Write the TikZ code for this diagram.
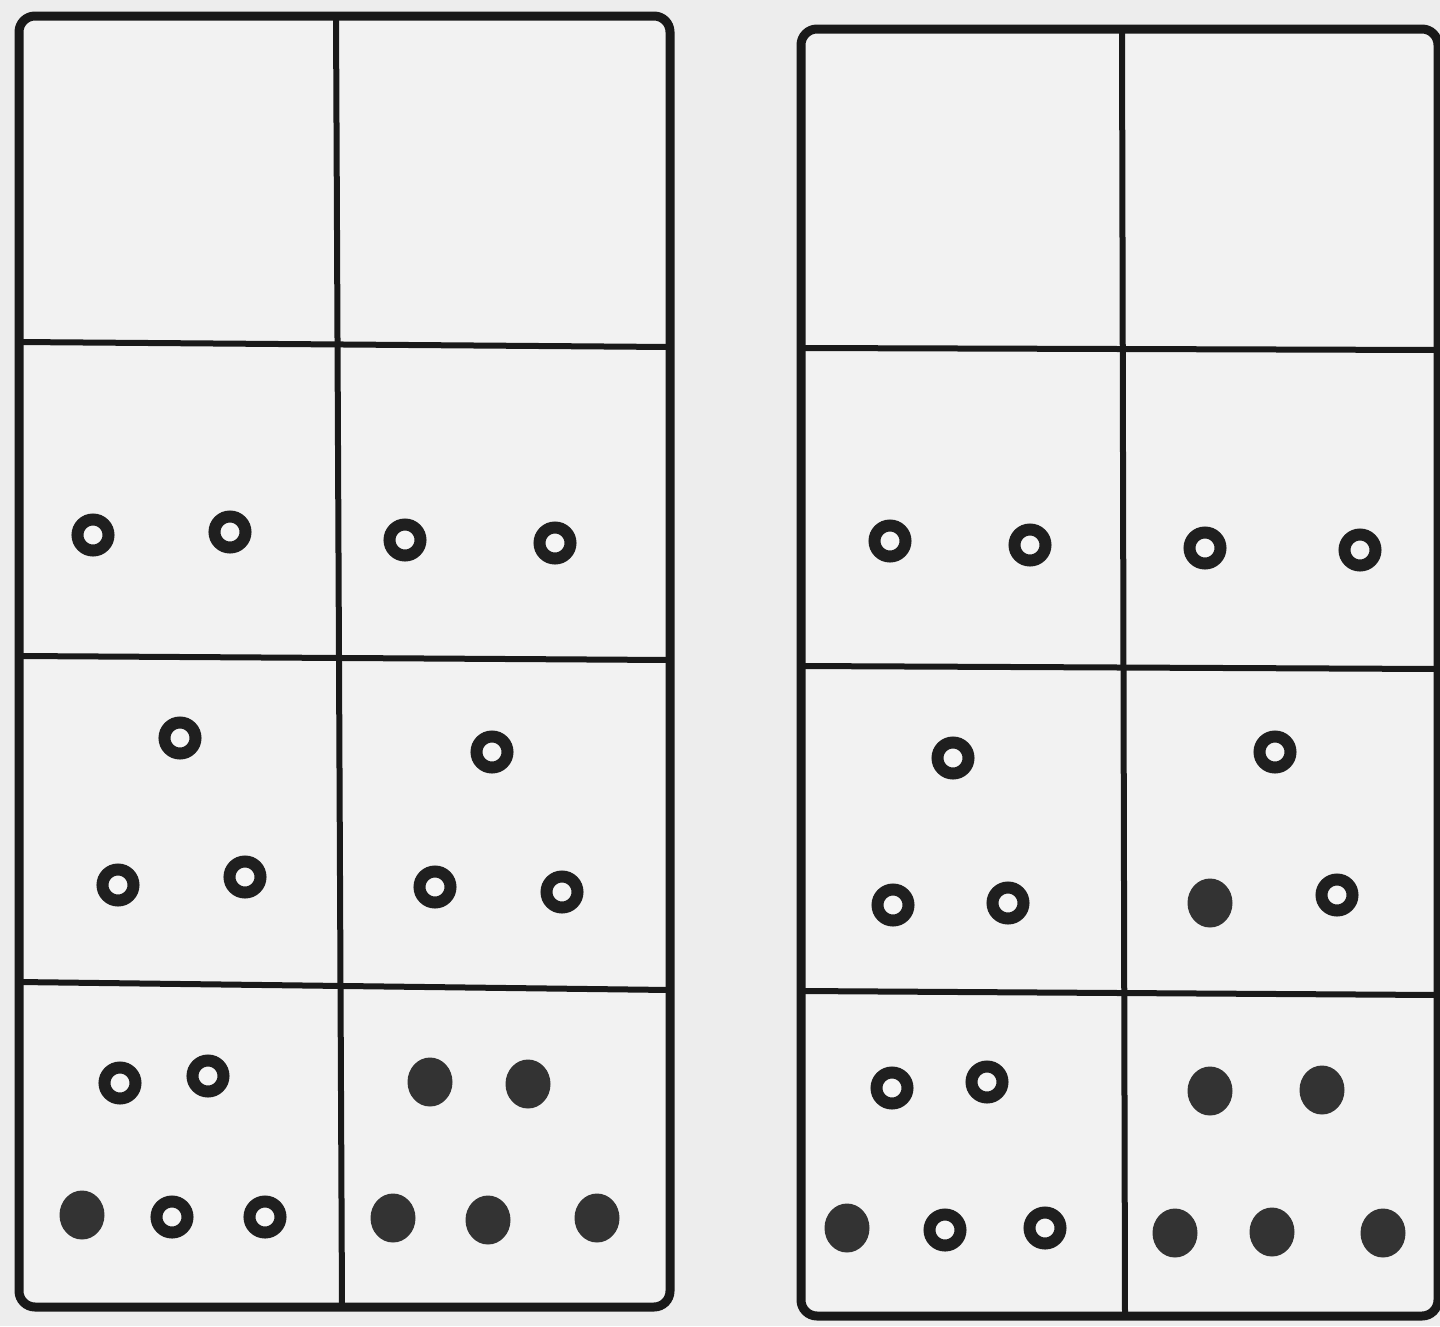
\documentclass[tikz,border=0pt]{standalone}
\begin{document}
\begin{tikzpicture}[x=1pt,y=-1pt,
  board/.style={draw=black!90,line width=9pt,rounded corners=16pt,fill=white!95!black},
  divider/.style={draw=black!90,line width=6pt},
  pip/.style={draw=black!88,line width=12pt,fill=white!96!black},
  pipf/.style={fill=black!80}]
\fill[white!93!black] (0,0) rectangle (1440,1326);
\useasboundingbox (0,0) rectangle (1440,1326);
% left domino
\draw[board] (19,16) rectangle (670,1307);
\draw[divider] (336,16) -- (342,1307);
\draw[divider] (19,342) -- (670,347);
\draw[divider] (19,656) -- (670,660);
\draw[divider] (19,982) -- (670,990);
% right domino
\draw[board] (801,29) rectangle (1438,1316);
\draw[divider] (1122,29) -- (1125,1316);
\draw[divider] (801,348) -- (1438,350);
\draw[divider] (801,666) -- (1438,669);
\draw[divider] (801,991) -- (1438,995);
% left pips
\foreach \x/\y in {93/535,230/532,405/540,555/543,
  180/738,118/885,245/877,492/752,435/887,562/892,
  120/1083,208/1076,172/1217,265/1217}
  \draw[pip] (\x,\y) circle (15.5);
\foreach \x/\y in {430/1082,528/1084,82/1215,393/1218,488/1220,597/1218}
  \fill[pipf] (\x,\y) ellipse (22.5 and 24.5);
% right pips
\foreach \x/\y in {890/541,1030/545,1205/548,1360/550,
  953/758,893/905,1008/903,1275/752,1337/895,
  892/1088,987/1082,945/1230,1045/1228}
  \draw[pip] (\x,\y) circle (15.5);
\foreach \x/\y in {1210/903,1210/1091,1322/1090,847/1228,1175/1233,1272/1232,1383/1233}
  \fill[pipf] (\x,\y) ellipse (22.5 and 24.5);
\end{tikzpicture}
\end{document}
